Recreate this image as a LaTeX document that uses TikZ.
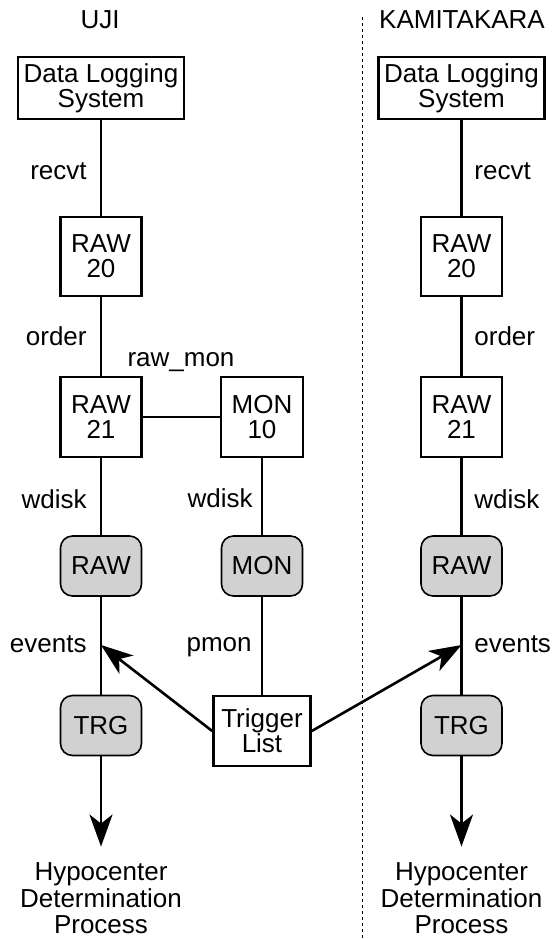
\documentclass[tikz,border=0pt]{standalone}
\usepackage{fontspec}
\setmainfont{Liberation Sans}
\usetikzlibrary{arrows.meta}

\begin{document}
\begin{tikzpicture}[x=0.5pt,y=-0.5pt,
  every node/.style={font=\fontsize{13}{12.6}\selectfont},
  box/.style={draw,line width=1.3pt,align=center,inner sep=0pt},
  disk/.style={draw,line width=0.8pt,fill=black!18,rounded corners=6pt,minimum width=40.5pt,minimum height=30pt,inner sep=0pt},
  hypo/.style={align=center,inner sep=8pt,font=\fontsize{13}{13.25}\selectfont},
  lbl/.style={inner sep=0pt},
  link/.style={line width=1.2pt},
  arr/.style={line width=1.3pt,-{Stealth[length=16pt,width=11.5pt,inset=4.5pt]}},
  sep/.style={line width=0.5pt,dash pattern=on 1.5pt off 1.5pt}]
  \useasboundingbox (0,0) rectangle (558,939);

  \node[lbl,anchor=base] (uji) at (100,28) {UJI};
  \node[lbl,anchor=base] (kami) at (462,28) {KAMITAKARA};

  % the two stations
  \foreach \c/\x/\a/\lx in {L/101/east/87, R/461.5/west/474} {
    \node[box,minimum width=83pt,minimum height=31pt] (dl\c) at (\x,88) {Data Logging\\System};
    \node[box,minimum width=40.5pt,minimum height=39.5pt] (raw20\c) at (\x,256.5) {RAW\\20};
    \node[box,minimum width=40.5pt,minimum height=40pt] (raw21\c) at (\x,417) {RAW\\21};
    \node[disk] (rawd\c) at (\x,566) {RAW};
    \node[disk] (trg\c) at (\x,725.5) {TRG};
    \node[hypo] (hypo\c) at (\x,898.5) {Hypocenter\\Determination\\Process};
    \coordinate (ev\c) at (\x,645);
    \draw[link] (dl\c) -- (raw20\c) -- (raw21\c) -- (rawd\c) -- (trg\c);
    \draw[arr] (trg\c) -- (hypo\c);
    \node[lbl,anchor=base \a] (recvt\c) at (\lx,179) {recvt};
    \node[lbl,anchor=base \a] (order\c) at (\lx,345) {order};
    \node[lbl,anchor=base \a] (wdisk\c) at (\lx,508) {wdisk};
    \node[lbl,anchor=base \a] (events\c) at (\lx,652) {events};
  }

  % monitor branch
  \node[box,minimum width=41pt,minimum height=40pt] (mon10) at (262,417) {MON\\10};
  \node[disk] (mond) at (262,566) {MON};
  \node[box,minimum width=48.5pt,minimum height=35pt] (tlist) at (262,731) {Trigger\\List};
  \node[lbl,anchor=base] (rawmon) at (181,366) {raw\_mon};
  \node[lbl,anchor=base east] (wdiskM) at (253,507) {wdisk};
  \node[lbl,anchor=base east] (pmon) at (252,651) {pmon};
  \draw[link] (raw21L) -- (mon10);
  \draw[link] (mon10) -- (mond) -- (tlist);
  \draw[arr] (tlist.west) -- (evL);
  \draw[arr] (tlist.east) -- (evR);

  \coordinate (sepT) at (362,17);
  \coordinate (sepB) at (362,939);
  \draw[sep] (sepT) -- (sepB);
\end{tikzpicture}
\end{document}
